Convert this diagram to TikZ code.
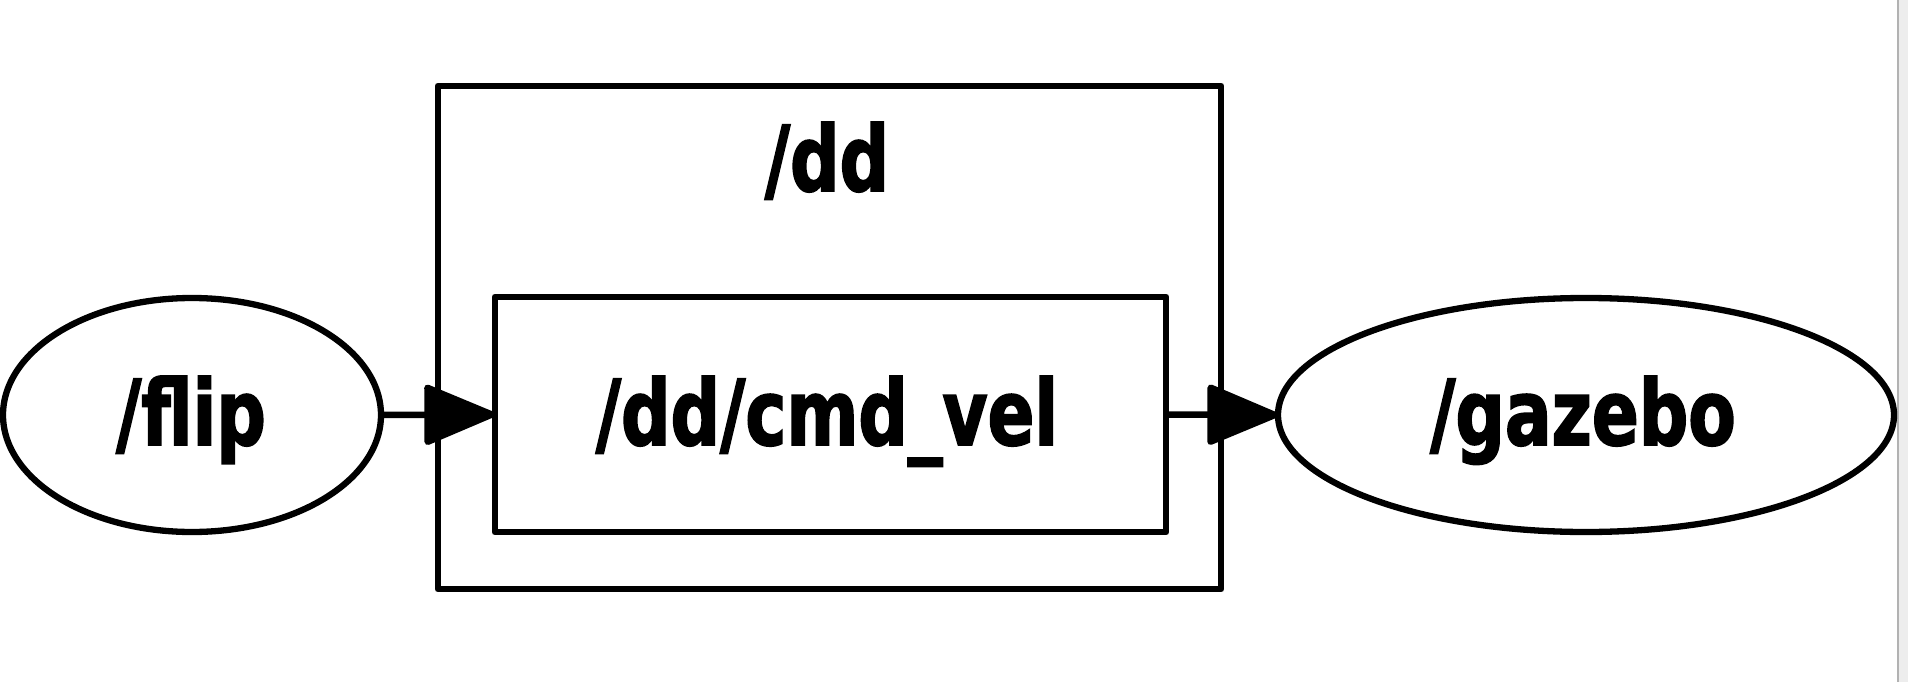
\documentclass[tikz,border=0pt]{standalone}
\usepackage{fontspec}
\newfontfamily\lblfont[FakeStretch=0.76,FakeBold=1.8]{DejaVu Sans}
\usetikzlibrary{arrows.meta}
\begin{document}
\begin{tikzpicture}[x=1pt,y=-1pt,
  every node/.style={inner sep=0pt, outer sep=0pt},
  lbl/.style={font=\lblfont\bfseries\fontsize{91}{100}\selectfont, anchor=base},
  edge/.style={line width=6.5pt, -{Triangle[length=76pt,width=62pt,round]}, line join=round},
  box/.style={draw, line width=6.8pt, line join=round}]
\useasboundingbox (0,0) rectangle (1908,682);
\fill[white] (0,0) rectangle (1908,682);
\fill[black!7] (1898,0) rectangle (1908,682);
\draw[black!30, line width=1.5pt] (1898,0) -- (1898,682);
% outer cluster
\draw[box] (438,86) rectangle (1221,589);
\node[lbl] (ddlabel) at (827,191) {/dd};
% inner topic box
\node[box, minimum width=671pt, minimum height=235pt] (cmd) at (830.5,414.5) {};
\node[lbl] (cmdlabel) at (827,445) {/dd/cmd\_vel};
% ellipses
\draw[line width=6.3pt] (192,415) ellipse [x radius=189pt, y radius=117pt];
\coordinate (flipE) at (381,415);
\node[lbl] (fliplabel) at (191,445) {/flip};
\draw[line width=6.3pt] (1586,415) ellipse [x radius=308pt, y radius=117pt];
\coordinate (gazW) at (1278,415);
\node[lbl] (gazlabel) at (1583,445) {/gazebo};
% edges
\draw[edge] (flipE) -- (cmd.west);
\draw[edge] (cmd.east) -- (gazW);
\end{tikzpicture}
\end{document}
